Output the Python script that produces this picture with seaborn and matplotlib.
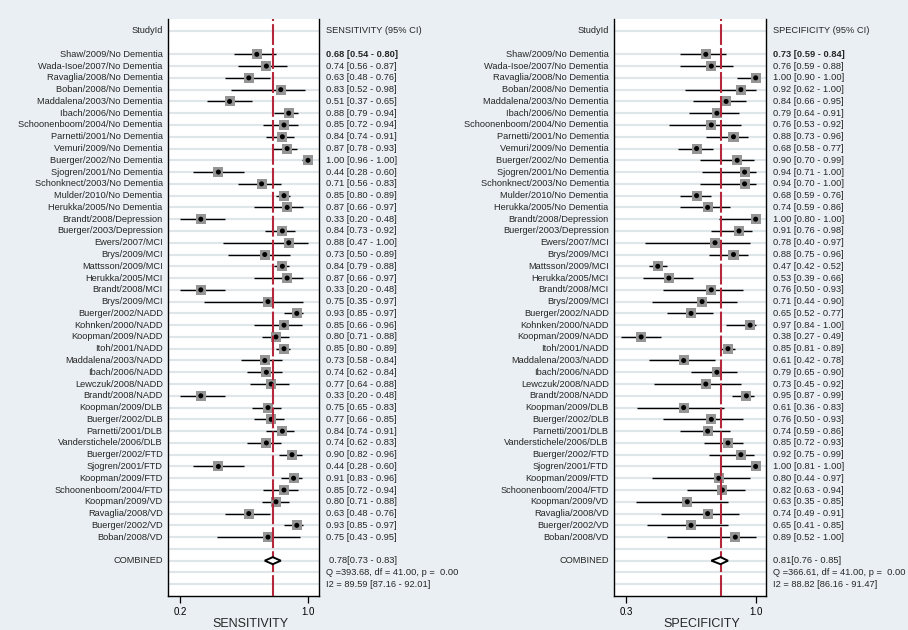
import pandas as pd
import matplotlib
matplotlib.use("Agg")
import matplotlib.pyplot as plt
import seaborn as sns

studies = [
    "Shaw/2009/No Dementia", "Wada-Isoe/2007/No Dementia", "Ravaglia/2008/No Dementia",
    "Boban/2008/No Dementia", "Maddalena/2003/No Dementia", "Ibach/2006/No Dementia",
    "Schoonenboom/2004/No Dementia", "Parnetti/2001/No Dementia", "Vemuri/2009/No Dementia",
    "Buerger/2002/No Dementia", "Sjogren/2001/No Dementia", "Schonknect/2003/No Dementia",
    "Mulder/2010/No Dementia", "Herukka/2005/No Dementia", "Brandt/2008/Depression",
    "Buerger/2003/Depression", "Ewers/2007/MCI", "Brys/2009/MCI", "Mattsson/2009/MCI",
    "Herukka/2005/MCI", "Brandt/2008/MCI", "Brys/2009/MCI", "Buerger/2002/NADD",
    "Kohnken/2000/NADD", "Koopman/2009/NADD", "Itoh/2001/NADD", "Maddalena/2003/NADD",
    "Ibach/2006/NADD", "Lewczuk/2008/NADD", "Brandt/2008/NADD", "Koopman/2009/DLB",
    "Buerger/2002/DLB", "Parnetti/2001/DLB", "Vanderstichele/2006/DLB", "Buerger/2002/FTD",
    "Sjogren/2001/FTD", "Koopman/2009/FTD", "Schoonenboom/2004/FTD", "Koopman/2009/VD",
    "Ravaglia/2008/VD", "Buerger/2002/VD", "Boban/2008/VD",
]

sens = [0.68, 0.74, 0.63, 0.83, 0.51, 0.88, 0.85, 0.84, 0.87, 1.00, 0.44, 0.71, 0.85, 0.87,
        0.33, 0.84, 0.88, 0.73, 0.84, 0.87, 0.33, 0.75, 0.93, 0.85, 0.80, 0.85, 0.73, 0.74,
        0.77, 0.33, 0.75, 0.77, 0.84, 0.74, 0.90, 0.44, 0.91, 0.85, 0.80, 0.63, 0.93, 0.75]
sens_lo = [0.54, 0.56, 0.48, 0.52, 0.37, 0.79, 0.72, 0.74, 0.78, 0.96, 0.28, 0.56, 0.80, 0.66,
           0.20, 0.73, 0.47, 0.50, 0.79, 0.66, 0.20, 0.35, 0.85, 0.66, 0.71, 0.80, 0.58, 0.62,
           0.64, 0.20, 0.65, 0.66, 0.74, 0.62, 0.82, 0.28, 0.83, 0.72, 0.71, 0.48, 0.85, 0.43]
sens_hi = [0.80, 0.87, 0.76, 0.98, 0.65, 0.94, 0.94, 0.91, 0.93, 1.00, 0.60, 0.83, 0.89, 0.97,
           0.48, 0.92, 1.00, 0.89, 0.88, 0.97, 0.48, 0.97, 0.97, 0.96, 0.88, 0.89, 0.84, 0.84,
           0.88, 0.48, 0.83, 0.85, 0.91, 0.83, 0.96, 0.60, 0.96, 0.94, 0.88, 0.76, 0.97, 0.95]

spec = [0.73, 0.76, 1.00, 0.92, 0.84, 0.79, 0.76, 0.88, 0.68, 0.90, 0.94, 0.94, 0.68, 0.74,
        1.00, 0.91, 0.78, 0.88, 0.47, 0.53, 0.76, 0.71, 0.65, 0.97, 0.38, 0.85, 0.61, 0.79,
        0.73, 0.95, 0.61, 0.76, 0.74, 0.85, 0.92, 1.00, 0.80, 0.82, 0.63, 0.74, 0.65, 0.89]
spec_lo = [0.59, 0.59, 0.90, 0.62, 0.66, 0.64, 0.53, 0.73, 0.58, 0.70, 0.71, 0.70, 0.59, 0.59,
           0.80, 0.76, 0.40, 0.75, 0.42, 0.39, 0.50, 0.44, 0.52, 0.84, 0.27, 0.81, 0.42, 0.65,
           0.45, 0.87, 0.36, 0.50, 0.59, 0.72, 0.75, 0.81, 0.44, 0.63, 0.35, 0.49, 0.41, 0.52]
spec_hi = [0.84, 0.88, 1.00, 1.00, 0.95, 0.91, 0.92, 0.96, 0.77, 0.99, 1.00, 1.00, 0.76, 0.86,
           1.00, 0.98, 0.97, 0.96, 0.52, 0.66, 0.93, 0.90, 0.77, 1.00, 0.49, 0.89, 0.78, 0.90,
           0.92, 0.99, 0.83, 0.93, 0.86, 0.93, 0.99, 1.00, 0.97, 0.94, 0.85, 0.91, 0.85, 1.00]

sens_pooled = [0.78, 0.73, 0.83]
spec_pooled = [0.81, 0.76, 0.85]
sens_stats = ["Q =393.68, df = 41.00, p =  0.00", "I2 = 89.59 [87.16 - 92.01]"]
spec_stats = ["Q =366.61, df = 41.00, p =  0.00", "I2 = 88.82 [86.16 - 91.47]"]

sens_ticks = [0.2, 1.0]
spec_ticks = [0.3, 1.0]

BG = "#e9eff2"
GRID = "#dfe6ea"
RED = "#b3283a"
FS = 6.7

sns.set_style("white")
plt.rcParams["font.family"] = ["Liberation Sans", "DejaVu Sans"]


def forest(ax, name, est, lo, hi, pooled, stats, ticks, xlim, xlab_x):
    df = pd.DataFrame({"study": studies, "est": est, "lo": lo, "hi": hi})
    df["row"] = range(len(df))
    n = len(df)
    ax.set_facecolor("white")
    ax.set_xlim(*xlim)
    ax.set_ylim(n + 4, -3)

    # light row lines
    for r in [-2] + list(range(n + 4)):
        ax.axhline(r, color=GRID, lw=1.5, zorder=0)

    ax.hlines(df["row"], df["lo"], df["hi"], color="black", lw=1.0, zorder=2)
    sns.scatterplot(data=df, x="est", y="row", marker="s", s=52, color="#959595",
                    edgecolor="none", ax=ax, zorder=3, legend=False)
    sns.scatterplot(data=df, x="est", y="row", marker="o", s=13, color="black",
                    edgecolor="none", ax=ax, zorder=4, legend=False)

    ax.axvline(pooled[0], color=RED, lw=1.5, dashes=(10, 1.5), zorder=5)

    yc = n + 1
    ax.fill([pooled[1], pooled[0], pooled[2], pooled[0]],
            [yc, yc - 0.3, yc, yc + 0.3], facecolor="white", edgecolor="black",
            lw=1.4, zorder=6)

    tr = ax.get_yaxis_transform()
    ax.text(-0.035, -2, "StudyId", transform=tr, ha="right", va="center", fontsize=FS)
    ax.text(1.046, -2, name + " (95% CI)", transform=tr, ha="left", va="center", fontsize=FS)
    for r, row in df.iterrows():
        ax.text(-0.035, row["row"], row["study"], transform=tr, ha="right", va="center",
                fontsize=FS)
        ax.text(1.046, row["row"], f"{row['est']:.2f} [{row['lo']:.2f} - {row['hi']:.2f}]",
                transform=tr, ha="left", va="center", fontsize=FS,
                fontweight="bold" if r == 0 else "normal")
    ax.text(-0.035, yc, "COMBINED", transform=tr, ha="right", va="center", fontsize=FS)
    ax.text(1.046 + (0.018 if name == "SENSITIVITY" else 0), yc,
            f"{pooled[0]:.2f}[{pooled[1]:.2f} - {pooled[2]:.2f}]",
            transform=tr, ha="left", va="center", fontsize=FS)
    ax.text(1.046, yc + 1, stats[0], transform=tr, ha="left", va="center", fontsize=FS)
    ax.text(1.046, yc + 2, stats[1], transform=tr, ha="left", va="center", fontsize=FS)

    ax.set_xticks(ticks)
    ax.set_xticklabels([f"{t:.1f}" for t in ticks])
    ax.set_yticks([])
    ax.tick_params(axis="x", direction="out", length=5, width=0.9, labelsize=7, pad=3,
                   bottom=True, colors="black")
    ax.set_xlabel(name, fontsize=9)
    ax.set_ylabel("")
    ax.xaxis.set_label_coords(xlab_x, -0.038)
    for side in ["left", "right", "bottom"]:
        ax.spines[side].set_visible(True)
        ax.spines[side].set_color("black")
        ax.spines[side].set_linewidth(1.0)
    ax.spines["top"].set_visible(False)


fig = plt.figure(figsize=(9.08, 6.30), dpi=100, facecolor=BG)
ax1 = fig.add_axes([168 / 908, 34 / 630, 151 / 908, 577 / 630])
ax2 = fig.add_axes([614 / 908, 34 / 630, 152 / 908, 577 / 630])

forest(ax1, "SENSITIVITY", sens, sens_lo, sens_hi, sens_pooled, sens_stats, sens_ticks,
       (0.125, 1.069), 0.543)
forest(ax2, "SPECIFICITY", spec, spec_lo, spec_hi, spec_pooled, spec_stats, spec_ticks,
       (0.233, 1.056), 0.579)

fig.savefig("out.png", dpi=100, facecolor=BG)
